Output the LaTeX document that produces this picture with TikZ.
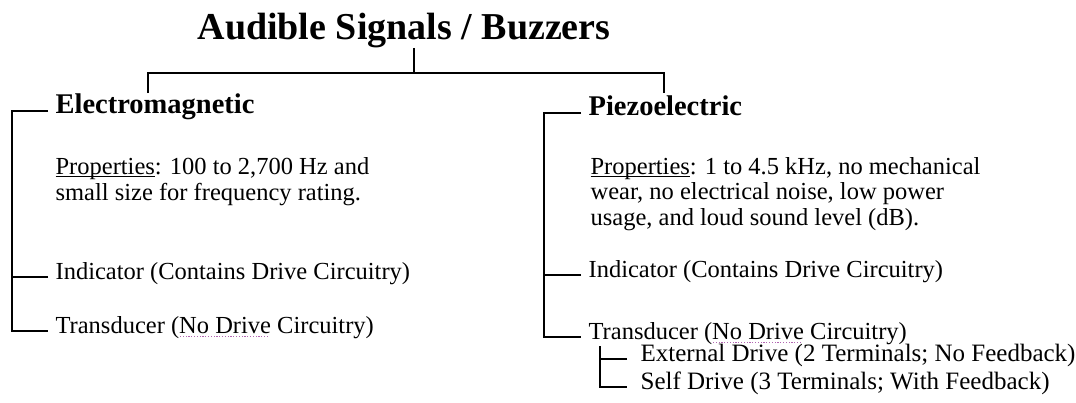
\documentclass[tikz,border=0pt]{standalone}
\usepackage{fontspec}
\setmainfont{Liberation Serif}
\usepackage{xcolor}
\usepackage{tikz}
\newsavebox\spellbox
\newcommand\spellmark[1]{\sbox\spellbox{#1}\rlap{\color{violet!60}\leaders\hbox to 2.8pt{\hss\rule[-3.5pt]{1.2pt}{1.2pt}\hss}\hskip\wd\spellbox}\usebox\spellbox}
\newcommand\propline[1]{\sbox\spellbox{#1}\rlap{\rule[-2.5pt]{\wd\spellbox}{1pt}}\usebox\spellbox}

\begin{document}
\begin{tikzpicture}[x=1pt, y=-1pt, line width=1.2pt, font=\fontsize{24.5}{25.5}\selectfont]
\tikzstyle{head}=[anchor=mid west, inner xsep=7pt, inner ysep=1pt, font=\fontsize{28.5}{30}\selectfont\bfseries]
\tikzstyle{item}=[anchor=mid west, inner xsep=7pt, inner ysep=1pt]
\tikzstyle{subitem}=[anchor=mid west, inner xsep=13pt, inner ysep=1pt, font=\fontsize{25}{26}\selectfont]
\tikzstyle{props}=[anchor=base west, inner sep=0pt, align=left]
\useasboundingbox (0,0) rectangle (1076,402);

\node[anchor=base, inner sep=0pt, font=\fontsize{38}{40}\selectfont\bfseries] (title) at (404,39) {Audible Signals / Buzzers};
\coordinate (hub) at (414,73);
\coordinate (emdrop) at (148,93);
\coordinate (pzdrop) at (664,93);

\node[head] (em) at (48,111) {Electromagnetic};
\node[props] (emprops) at (55,200) {\propline{Properties}: 100 to 2,700 Hz and\\small size for frequency rating.};
\node[item] (emind) at (48,277) {Indicator (Contains Drive Circuitry)};
\node[item] (emtrans) at (48,331) {Transducer (\spellmark{No Drive} Circuitry)};

\node[head] (pz) at (581,113) {Piezoelectric};
\node[props] (pzprops) at (590,225) {\propline{Properties}: 1 to 4.5 kHz, no mechanical\\wear, no electrical noise, low power\\usage, and loud sound level (dB).};
\node[item] (pzind) at (581,275) {Indicator (Contains Drive Circuitry)};
\node[item] (pztrans) at (581,337) {Transducer (\spellmark{No Drive} Circuitry)};
\node[subitem] (extdrv) at (627,359) {External Drive (2 Terminals; No Feedback)};
\node[subitem] (selfdrv) at (627,387) {Self Drive (3 Terminals; With Feedback)};

\draw (title.south -| hub) -- (hub);
\draw (emdrop) |- (hub) -| (pzdrop);
\draw (em.mid west) -- ++(-36,0) |- (emtrans.mid west);
\draw (emind.mid west) -- ++(-36,0);
\draw (pz.mid west) -- ++(-37,0) |- (pztrans.mid west);
\draw (pzind.mid west) -- ++(-37,0);
\draw ([xshift=19pt]pztrans.south west) |- (selfdrv.mid west);
\draw (extdrv.mid west) -- ++(-27,0);
\end{tikzpicture}
\end{document}
